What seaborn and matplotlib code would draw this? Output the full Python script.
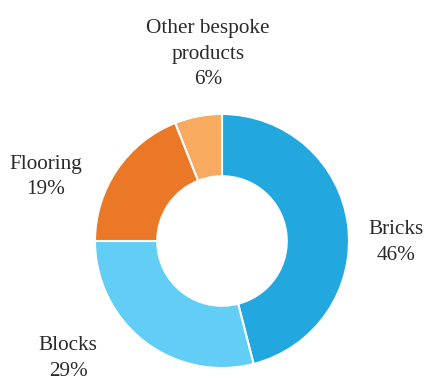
import matplotlib
matplotlib.use("Agg")
import matplotlib.pyplot as plt
import seaborn as sns

categories = ["Bricks", "Blocks", "Flooring", "Other bespoke\nproducts"]
values = [46, 29, 19, 6]
colors = ["#22A7DF", "#62CDF5", "#EB7826", "#F8AA5E"]

sns.set_theme(style="white")
plt.rcParams["font.family"] = ["Liberation Serif", "DejaVu Serif"]

W, H = 426, 379
cx, cy, R = 222, 241, 127

fig = plt.figure(figsize=(W / 100, H / 100), dpi=100)
ax = fig.add_axes([0, 0, 1, 1])
ax.pie(values, colors=colors, startangle=90, counterclock=False, radius=1,
       wedgeprops=dict(width=0.49, edgecolor="white", linewidth=1.5))
ax.set_xlim(-cx / R, (W - cx) / R)
ax.set_ylim(-(H - cy) / R, cy / R)
ax.set_aspect("equal")
ax.axis("off")

# label anchor positions (pixel coords of text centres)
label_pos = {
    "Bricks": (396, 243),
    "Blocks": (68, 358),
    "Flooring": (46, 177),
    "Other bespoke\nproducts": (208, 54),
}
for cat, v in zip(categories, values):
    px, py = label_pos[cat]
    ax.text((px - cx) / R, (cy - py) / R, f"{cat}\n{v}%", ha="center", va="center",
            fontsize=15.3, color="#2b2b2b", linespacing=1.5)

fig.savefig("out.png", dpi=100)
